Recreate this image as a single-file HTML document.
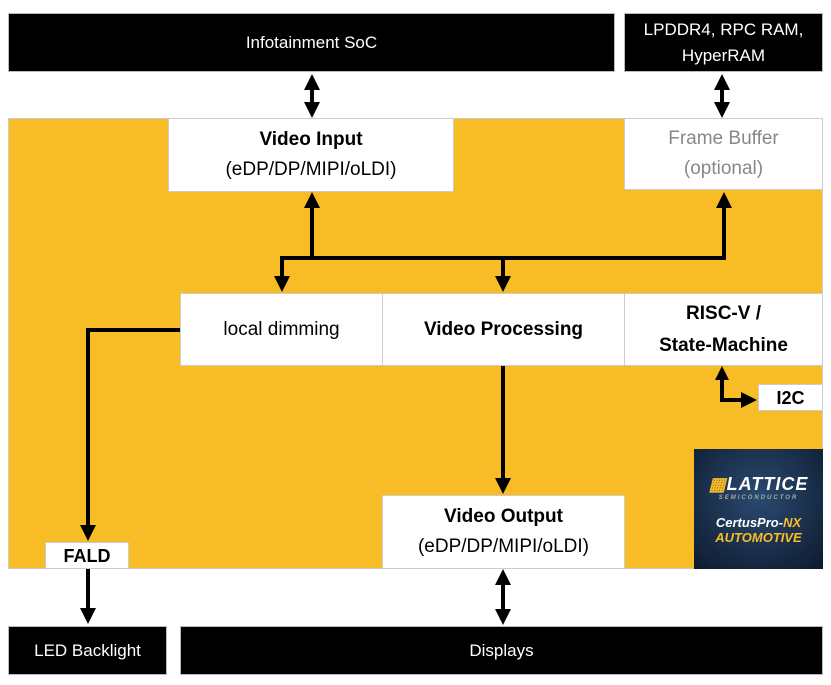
<!DOCTYPE html>
<html><head><style>
body{margin:0;width:831px;height:685px;background:#fff;position:relative;overflow:hidden;font-family:"Liberation Sans",sans-serif}
.b{position:absolute;box-sizing:border-box;display:flex;align-items:center;justify-content:center;text-align:center;flex-direction:column}
.k{background:#000;color:#fff;font-size:17px;border:1px solid #bbb}
.w{background:#fff;border:1px solid #ccc;color:#000;font-size:19px;line-height:30px}
</style></head><body>
<div class="b" style="left:8px;top:118px;width:815px;height:451px;background:#f8bd26;border:1px solid #ccc"></div>
<div class="b k" style="left:8px;top:13px;width:607px;height:59px">Infotainment SoC</div>
<div class="b k" style="left:624px;top:13px;width:199px;height:59px;line-height:26px">LPDDR4, RPC RAM,<br>HyperRAM</div>
<div class="b w" style="left:168px;top:118px;width:286px;height:74px"><b>Video Input</b>(eDP/DP/MIPI/oLDI)</div>
<div class="b w" style="left:624px;top:118px;width:199px;height:72px;color:#888">Frame Buffer<br>(optional)</div>
<div class="b w" style="left:180px;top:293px;width:203px;height:73px">local dimming</div>
<div class="b w" style="left:382px;top:293px;width:243px;height:73px"><b>Video Processing</b></div>
<div class="b w" style="left:624px;top:293px;width:199px;height:73px;line-height:32px"><b>RISC-V /<br>State-Machine</b></div>
<div class="b w" style="left:758px;top:384px;width:65px;height:27px;font-size:18px"><b>I2C</b></div>
<div class="b w" style="left:382px;top:495px;width:243px;height:74px"><b>Video Output</b>(eDP/DP/MIPI/oLDI)</div>
<div class="b w" style="left:45px;top:542px;width:84px;height:27px;font-size:18px"><b>FALD</b></div>
<div class="b" style="left:694px;top:449px;width:129px;height:120px;background:radial-gradient(circle at 50% 40%,#2a4a70,#0d1a2e);color:#fff;font-style:italic;font-weight:bold">
<div style="font-size:18px;letter-spacing:1px"><span style="color:#f8bd26">▦</span>LATTICE</div>
<div style="font-size:6px;color:#aaa;letter-spacing:2px;margin-bottom:14px">SEMICONDUCTOR</div>
<div style="font-size:13px">CertusPro-<span style="color:#f8bd26">NX</span></div>
<div style="font-size:13px;color:#f8bd26">AUTOMOTIVE</div></div>
<div class="b k" style="left:8px;top:626px;width:159px;height:49px">LED Backlight</div>
<div class="b k" style="left:180px;top:626px;width:643px;height:49px">Displays</div>
<svg width="831" height="685" style="position:absolute;left:0;top:0">
<defs><marker id="a" markerWidth="4" markerHeight="4" refX="3" refY="2" orient="auto-start-reverse"><path d="M0,0L4,2L0,4z" fill="#000"/></marker></defs>
<g stroke="#000" stroke-width="4" fill="none">
<line x1="312" y1="78" x2="312" y2="114" marker-start="url(#a)" marker-end="url(#a)"/>
<line x1="722" y1="78" x2="722" y2="114" marker-start="url(#a)" marker-end="url(#a)"/>
<polyline points="282,288 282,258 724,258 724,196" marker-start="url(#a)" marker-end="url(#a)"/>
<line x1="312" y1="258" x2="312" y2="196" marker-end="url(#a)"/>
<line x1="503" y1="258" x2="503" y2="288" marker-end="url(#a)"/>
<polyline points="180,330 88,330 88,537" marker-end="url(#a)"/>
<line x1="88" y1="569" x2="88" y2="620" marker-end="url(#a)"/>
<line x1="503" y1="366" x2="503" y2="490" marker-end="url(#a)"/>
<line x1="503" y1="573" x2="503" y2="621" marker-start="url(#a)" marker-end="url(#a)"/>
<polyline points="722,376 722,400 753,400" marker-end="url(#a)"/>
</g>
<path d="M722,366 L715,380 L729,380 Z" fill="#000"/>
</svg>
</body></html>
